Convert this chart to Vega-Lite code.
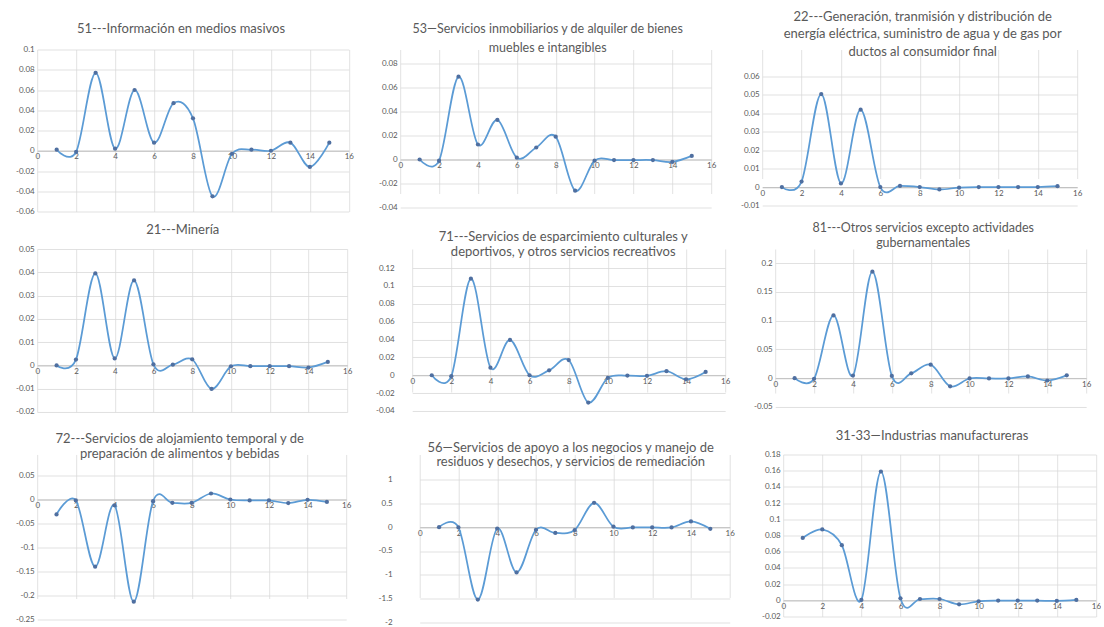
{
  "$schema": "https://vega.github.io/schema/vega-lite/v6.json",
  "background": "white",
  "padding": {"left": 15.2, "top": 10.5, "right": 0, "bottom": 0},
  "config": {
    "view": {"stroke": null},
    "font": "Lato",
    "axis": {"grid": true, "gridColor": "#D9D9D9", "gridWidth": 0.8, "labelFont": "Lato", "labelFontSize": 8, "labelColor": "#595959", "ticks": false, "domain": false, "labelFlush": false, "labelOverlap": false, "labelPadding": 3},
    "axisX": {"domain": true, "domainColor": "#BFBFBF", "domainWidth": 1, "labelPadding": 2},
    "title": {"font": "Lato", "fontSize": 13, "fontWeight": "normal", "color": "#595959", "anchor": "middle"}
  },
  "datasets": {
    "p51": [{"x":1,"y":0.001},{"x":2,"y":-0.001},{"x":3,"y":0.077},{"x":4,"y":0.002},{"x":5,"y":0.06},{"x":6,"y":0.008},{"x":7,"y":0.047},{"x":8,"y":0.032},{"x":9,"y":-0.045},{"x":10,"y":-0.003},{"x":11,"y":0.001},{"x":12,"y":0.0},{"x":13,"y":0.008},{"x":14,"y":-0.016},{"x":15,"y":0.008}],
    "p53": [{"x":1,"y":0},{"x":2,"y":-0.001},{"x":3,"y":0.069},{"x":4,"y":0.0125},{"x":5,"y":0.033},{"x":6,"y":0.0015},{"x":7,"y":0.010},{"x":8,"y":0.019},{"x":9,"y":-0.026},{"x":10,"y":-0.001},{"x":11,"y":-0.0005},{"x":12,"y":-0.0005},{"x":13,"y":-0.0005},{"x":14,"y":-0.002},{"x":15,"y":0.003}],
    "p22": [{"x":1,"y":0},{"x":2,"y":0.003},{"x":3,"y":0.0505},{"x":4,"y":0.002},{"x":5,"y":0.042},{"x":6,"y":0},{"x":7,"y":0.0006},{"x":8,"y":0},{"x":9,"y":-0.0013},{"x":10,"y":-0.0003},{"x":11,"y":0},{"x":12,"y":0},{"x":13,"y":0},{"x":14,"y":0},{"x":15,"y":0.0005}],
    "p21": [{"x":1,"y":0},{"x":2,"y":0.0025},{"x":3,"y":0.0395},{"x":4,"y":0.003},{"x":5,"y":0.0365},{"x":6,"y":0.0005},{"x":7,"y":0.0003},{"x":8,"y":0.0026},{"x":9,"y":-0.0101},{"x":10,"y":-0.0004},{"x":11,"y":-0.0003},{"x":12,"y":-0.0003},{"x":13,"y":-0.0003},{"x":14,"y":-0.0009},{"x":15,"y":0.0015}],
    "p71": [{"x":1,"y":0},{"x":2,"y":-0.001},{"x":3,"y":0.108},{"x":4,"y":0.0085},{"x":5,"y":0.0395},{"x":6,"y":0},{"x":7,"y":0.0055},{"x":8,"y":0.017},{"x":9,"y":-0.0305},{"x":10,"y":-0.003},{"x":11,"y":-0.0004},{"x":12,"y":-0.0007},{"x":13,"y":0.0045},{"x":14,"y":-0.0045},{"x":15,"y":0.0037}],
    "p81": [{"x":1,"y":0},{"x":2,"y":-0.001},{"x":3,"y":0.109},{"x":4,"y":0.0045},{"x":5,"y":0.185},{"x":6,"y":0.004},{"x":7,"y":0.0085},{"x":8,"y":0.0235},{"x":9,"y":-0.014},{"x":10,"y":-0.0005},{"x":11,"y":-0.0005},{"x":12,"y":-0.0005},{"x":13,"y":0.003},{"x":14,"y":-0.004},{"x":15,"y":0.005}],
    "p72": [{"x":1,"y":-0.031},{"x":2,"y":-0.002},{"x":3,"y":-0.14},{"x":4,"y":-0.012},{"x":5,"y":-0.213},{"x":6,"y":-0.0035},{"x":7,"y":-0.007},{"x":8,"y":-0.007},{"x":9,"y":0.0125},{"x":10,"y":0},{"x":11,"y":-0.002},{"x":12,"y":-0.002},{"x":13,"y":-0.0075},{"x":14,"y":-0.0007},{"x":15,"y":-0.005}],
    "p56": [{"x":1,"y":0},{"x":2,"y":-0.005},{"x":3,"y":-1.52},{"x":4,"y":-0.03},{"x":5,"y":-0.95},{"x":6,"y":-0.055},{"x":7,"y":-0.12},{"x":8,"y":-0.06},{"x":9,"y":0.51},{"x":10,"y":0.01},{"x":11,"y":-0.005},{"x":12,"y":-0.005},{"x":13,"y":-0.005},{"x":14,"y":0.12},{"x":15,"y":-0.035}],
    "p31": [{"x":1,"y":0.077},{"x":2,"y":0.0875},{"x":3,"y":0.068},{"x":4,"y":0.0004},{"x":5,"y":0.159},{"x":6,"y":0.0025},{"x":7,"y":0.0016},{"x":8,"y":0.0016},{"x":9,"y":-0.005},{"x":10,"y":-0.0012},{"x":11,"y":-0.0004},{"x":12,"y":-0.0004},{"x":13,"y":-0.0004},{"x":14,"y":-0.0008},{"x":15,"y":0.0004}]
  },
  "columns": 1,
  "spacing": 5.5,
  "align": "none",
  "concat": [
    {
      "columns": 3,
      "spacing": 24,
      "align": "none",
      "concat": [
        {
          "width": 311.6, "height": 162,
          "title": {"text": "51---Información en medios masivos", "offset": 9.5, "dx": -12},
          "data": {"name": "p51"},
          "encoding": {
            "x": {"field": "x", "type": "quantitative", "scale": {"domain": [0, 16], "nice": false, "zero": false}, "axis": {"values": [0,2,4,6,8,10,12,14,16], "offset": -60.75, "title": null, "labelExpr": "toString(datum.value)"}},
            "y": {"field": "y", "type": "quantitative", "scale": {"domain": [-0.06, 0.1], "nice": false, "zero": false}, "axis": {"values": [-0.06,-0.04,-0.02,0,0.02,0.04,0.06,0.08,0.1], "title": null, "labelExpr": "toString(datum.value)"}}
          },
          "layer": [
            {"mark": {"type": "line", "interpolate": "cardinal", "color": "#5B9BD5", "strokeWidth": 1.75}, "encoding": {}},
            {"mark": {"type": "point", "filled": true, "size": 18, "color": "#4F6FA0", "opacity": 1}}
          ]
        },
        {
          "width": 311, "height": 158,
          "title": {"text": ["53—Servicios inmobiliarios y de alquiler de bienes", "muebles e intangibles"], "fontSize": 12.5, "lineHeight": 19, "offset": -5, "dx": -8},
          "data": {"name": "p53"},
          "encoding": {
            "x": {"field": "x", "type": "quantitative", "scale": {"domain": [0, 16], "nice": false, "zero": false}, "axis": {"values": [0,2,4,6,8,10,12,14,16], "offset": -48, "title": null, "labelExpr": "toString(datum.value)"}},
            "y": {"field": "y", "type": "quantitative", "scale": {"domain": [-0.04, 0.08], "nice": false, "zero": false, "range": [158, 14]}, "axis": {"values": [-0.04,-0.02,0,0.02,0.04,0.06,0.08], "title": null, "labelExpr": "toString(datum.value)"}}
          },
          "layer": [
            {"mark": {"type": "line", "interpolate": "cardinal", "color": "#5B9BD5", "strokeWidth": 1.75}, "encoding": {}},
            {"mark": {"type": "point", "filled": true, "size": 18, "color": "#4F6FA0", "opacity": 1}}
          ]
        },
        {
          "width": 315, "height": 156,
          "title": {"text": ["22---Generación, tranmisión y distribución de", "energía eléctrica, suministro de agua y de gas por", "ductos al consumidor final"], "lineHeight": 17.5, "offset": -9.5, "dx": 3},
          "data": {"name": "p22"},
          "encoding": {
            "x": {"field": "x", "type": "quantitative", "scale": {"domain": [0, 16], "nice": false, "zero": false}, "axis": {"values": [0,2,4,6,8,10,12,14,16], "offset": -18.43, "title": null, "labelExpr": "toString(datum.value)"}},
            "y": {"field": "y", "type": "quantitative", "scale": {"domain": [-0.01, 0.06], "nice": false, "zero": false, "range": [156, 27]}, "axis": {"values": [-0.01,0,0.01,0.02,0.03,0.04,0.05,0.06], "title": null, "labelExpr": "toString(datum.value)"}}
          },
          "layer": [
            {"mark": {"type": "line", "interpolate": "cardinal", "color": "#5B9BD5", "strokeWidth": 1.75}, "encoding": {}},
            {"mark": {"type": "point", "filled": true, "size": 18, "color": "#4F6FA0", "opacity": 1}}
          ]
        }
      ]
    },
    {
      "columns": 1,
      "spacing": 13.5,
      "align": "none",
      "concat": [
        {
          "columns": 3,
          "spacing": 23,
          "align": "none",
          "concat": [
            {
              "width": 310, "height": 163,
              "title": {"text": "21---Minería", "offset": 8.5, "dx": -9.5},
              "data": {"name": "p21"},
              "encoding": {
                "x": {"field": "x", "type": "quantitative", "scale": {"domain": [0, 16], "nice": false, "zero": false}, "axis": {"values": [0,2,4,6,8,10,12,14,16], "offset": -46.57, "title": null, "labelExpr": "toString(datum.value)"}},
                "y": {"field": "y", "type": "quantitative", "scale": {"domain": [-0.02, 0.05], "nice": false, "zero": false}, "axis": {"values": [-0.02,-0.01,0,0.01,0.02,0.03,0.04,0.05], "title": null, "labelExpr": "toString(datum.value)"}}
              },
              "layer": [
                {"mark": {"type": "line", "interpolate": "cardinal", "color": "#5B9BD5", "strokeWidth": 1.75}, "encoding": {}},
                {"mark": {"type": "point", "filled": true, "size": 18, "color": "#4F6FA0", "opacity": 1}}
              ]
            },
            {
              "width": 313, "height": 162,
              "title": {"text": ["71---Servicios de esparcimiento culturales y", "deportivos, y otros servicios recreativos"], "lineHeight": 16, "offset": -10.5, "dx": -5.5},
              "data": {"name": "p71"},
              "encoding": {
                "x": {"field": "x", "type": "quantitative", "scale": {"domain": [0, 16], "nice": false, "zero": false}, "axis": {"values": [0,2,4,6,8,10,12,14,16], "offset": -35.75, "title": null, "labelExpr": "toString(datum.value)"}},
                "y": {"field": "y", "type": "quantitative", "scale": {"domain": [-0.04, 0.12], "nice": false, "zero": false, "range": [162, 19]}, "axis": {"values": [-0.04,-0.02,0,0.02,0.04,0.06,0.08,0.1,0.12], "title": null, "offset": 15, "labelExpr": "toString(datum.value)"}}
              },
              "layer": [
                {"mark": {"type": "line", "interpolate": "cardinal", "color": "#5B9BD5", "strokeWidth": 1.75}, "encoding": {}},
                {"mark": {"type": "point", "filled": true, "size": 18, "color": "#4F6FA0", "opacity": 1}}
              ]
            },
            {
              "width": 311, "height": 158,
              "title": {"text": ["81---Otros servicios excepto actividades", "gubernamentales"], "fontSize": 12.5, "lineHeight": 16, "offset": -1, "dx": -7.5},
              "data": {"name": "p81"},
              "encoding": {
                "x": {"field": "x", "type": "quantitative", "scale": {"domain": [0, 16], "nice": false, "zero": false}, "axis": {"values": [0,2,4,6,8,10,12,14,16], "offset": -28.8, "title": null, "labelExpr": "toString(datum.value)"}},
                "y": {"field": "y", "type": "quantitative", "scale": {"domain": [-0.05, 0.2], "nice": false, "zero": false, "range": [158, 14]}, "axis": {"values": [-0.05,0,0.05,0.1,0.15,0.2], "title": null, "labelExpr": "toString(datum.value)"}}
              },
              "layer": [
                {"mark": {"type": "line", "interpolate": "cardinal", "color": "#5B9BD5", "strokeWidth": 1.75}, "encoding": {}},
                {"mark": {"type": "point", "filled": true, "size": 18, "color": "#4F6FA0", "opacity": 1}}
              ]
            }
          ]
        },
        {
          "columns": 3,
          "spacing": 26.5,
          "align": "none",
          "concat": [
            {
              "width": 309, "height": 165,
              "title": {"text": ["72---Servicios de alojamiento temporal y de", "preparación de alimentos y bebidas"], "lineHeight": 15, "offset": -6.5, "dx": -12},
              "data": {"name": "p72"},
              "encoding": {
                "x": {"field": "x", "type": "quantitative", "scale": {"domain": [0, 16], "nice": false, "zero": false}, "axis": {"values": [0,2,4,6,8,10,12,14,16], "offset": -120, "title": null, "labelExpr": "toString(datum.value)"}},
                "y": {"field": "y", "type": "quantitative", "scale": {"domain": [-0.25, 0.05], "nice": false, "zero": false, "range": [165, 21]}, "axis": {"values": [-0.25,-0.2,-0.15,-0.1,-0.05,0,0.05], "title": null, "labelExpr": "toString(datum.value)"}}
              },
              "layer": [
                {"mark": {"type": "line", "interpolate": "cardinal", "color": "#5B9BD5", "strokeWidth": 1.75}, "encoding": {}},
                {"mark": {"type": "point", "filled": true, "size": 18, "color": "#4F6FA0", "opacity": 1}}
              ]
            },
            {
              "width": 310, "height": 168,
              "title": {"text": ["56—Servicios de apoyo a los negocios y manejo de", "residuos y desechos, y servicios de remediación"], "lineHeight": 14, "offset": -14.5, "dx": -4},
              "data": {"name": "p56"},
              "encoding": {
                "x": {"field": "x", "type": "quantitative", "scale": {"domain": [0, 16], "nice": false, "zero": false}, "axis": {"values": [0,2,4,6,8,10,12,14,16], "offset": -95.33, "title": null, "labelExpr": "toString(datum.value)"}},
                "y": {"field": "y", "type": "quantitative", "scale": {"domain": [-2, 1], "nice": false, "zero": false, "range": [168, 25]}, "axis": {"values": [-2,-1.5,-1,-0.5,0,0.5,1], "title": null, "offset": 24.5, "labelExpr": "toString(datum.value)"}}
              },
              "layer": [
                {"mark": {"type": "line", "interpolate": "cardinal", "color": "#5B9BD5", "strokeWidth": 1.75}, "encoding": {}},
                {"mark": {"type": "point", "filled": true, "size": 18, "color": "#4F6FA0", "opacity": 1}}
              ]
            },
            {
              "width": 312.7, "height": 162,
              "title": {"text": "31-33—Industrias manufactureras", "offset": 7.5, "dx": -7.5},
              "data": {"name": "p31"},
              "encoding": {
                "x": {"field": "x", "type": "quantitative", "scale": {"domain": [0, 16], "nice": false, "zero": false}, "axis": {"values": [0,2,4,6,8,10,12,14,16], "offset": -16.2, "title": null, "labelExpr": "toString(datum.value)"}},
                "y": {"field": "y", "type": "quantitative", "scale": {"domain": [-0.02, 0.18], "nice": false, "zero": false}, "axis": {"values": [-0.02,0,0.02,0.04,0.06,0.08,0.1,0.12,0.14,0.16,0.18], "title": null, "labelExpr": "toString(datum.value)"}}
              },
              "layer": [
                {"mark": {"type": "line", "interpolate": "cardinal", "color": "#5B9BD5", "strokeWidth": 1.75}, "encoding": {}},
                {"mark": {"type": "point", "filled": true, "size": 18, "color": "#4F6FA0", "opacity": 1}}
              ]
            }
          ]
        }
      ]
    }
  ]
}
